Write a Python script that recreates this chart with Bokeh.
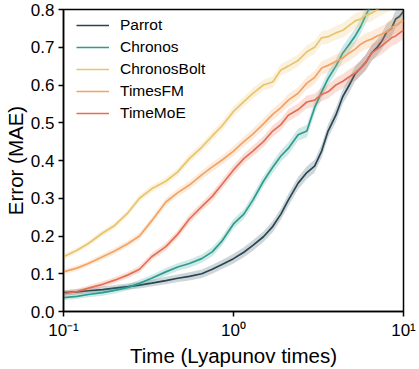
from bokeh.plotting import figure
from bokeh.models import ColumnDataSource, FixedTicker, Legend, LegendItem, PrintfTickFormatter, Range1d
from bokeh.embed import file_html
from bokeh.resources import INLINE

time = [0.1, 0.12, 0.14, 0.17, 0.2, 0.24, 0.28, 0.33, 0.4,
        0.47, 0.55, 0.65, 0.75, 0.85, 1.0,
        1.15, 1.3, 1.5, 1.7, 1.9, 2.1, 2.4,
        2.7, 3.0, 3.3, 3.6, 4.0, 4.4, 4.8, 5.2, 5.6, 6.0, 6.5, 7.0, 7.5, 8.0, 8.5, 9.0, 9.5, 10.0]

parrot = [0.050, 0.052, 0.055, 0.058, 0.062, 0.066, 0.070, 0.075, 0.082,
          0.088, 0.093, 0.100, 0.112, 0.124, 0.140,
          0.157, 0.175, 0.198, 0.225, 0.258, 0.295, 0.340,
          0.368, 0.385, 0.425, 0.478, 0.520, 0.570, 0.600, 0.630, 0.645, 0.660, 0.685, 0.700, 0.718, 0.742, 0.750, 0.775, 0.782, 0.795]
chronos = [0.037, 0.040, 0.045, 0.050, 0.056, 0.064, 0.075, 0.088, 0.105,
           0.118, 0.127, 0.140, 0.158, 0.185, 0.232,
           0.258, 0.295, 0.345, 0.382, 0.412, 0.432, 0.468,
           0.478, 0.540, 0.582, 0.617, 0.650, 0.685, 0.708, 0.730, 0.755, 0.785, 0.815, 0.840, 0.860, 0.880, 0.900, 0.920, 0.940, 0.960]
chronos_bolt = [0.145, 0.162, 0.180, 0.208, 0.228, 0.262, 0.300, 0.325, 0.345,
                0.370, 0.405, 0.435, 0.465, 0.490, 0.530,
                0.556, 0.578, 0.600, 0.608, 0.640, 0.650, 0.665,
                0.688, 0.700, 0.725, 0.728, 0.738, 0.745, 0.758, 0.770, 0.775, 0.785, 0.790, 0.800, 0.808, 0.815, 0.820, 0.830, 0.835, 0.840]
timesfm = [0.105, 0.115, 0.127, 0.145, 0.160, 0.180, 0.200, 0.240, 0.290,
           0.315, 0.335, 0.362, 0.383, 0.400, 0.425,
           0.450, 0.470, 0.497, 0.522, 0.540, 0.560, 0.578,
           0.605, 0.620, 0.645, 0.652, 0.662, 0.672, 0.685, 0.695, 0.708, 0.716, 0.722, 0.730, 0.735, 0.742, 0.752, 0.758, 0.765, 0.770]
timemoe = [0.047, 0.053, 0.062, 0.072, 0.083, 0.097, 0.112, 0.145, 0.172,
           0.205, 0.245, 0.278, 0.305, 0.335, 0.375,
           0.405, 0.425, 0.450, 0.478, 0.495, 0.520, 0.535,
           0.555, 0.560, 0.575, 0.582, 0.600, 0.610, 0.622, 0.632, 0.645, 0.660, 0.685, 0.695, 0.705, 0.715, 0.725, 0.730, 0.738, 0.745]
band = [0.007, 0.007, 0.007, 0.008, 0.008, 0.008, 0.009, 0.009, 0.010,
        0.010, 0.011, 0.011, 0.012, 0.012, 0.013,
        0.013, 0.014, 0.014, 0.015, 0.015, 0.016, 0.016,
        0.017, 0.017, 0.018, 0.018, 0.019, 0.019, 0.020, 0.020, 0.020, 0.021, 0.021, 0.021, 0.022, 0.022, 0.022, 0.023, 0.023, 0.023]

series_names = ["Parrot", "Chronos", "ChronosBolt", "TimesFM", "TimeMoE"]
series_values = [parrot, chronos, chronos_bolt, timesfm, timemoe]
colors = ["#264653", "#2a9d8f", "#e9c46a", "#f4a261", "#e76f51"]

x_ticks = [0.1, 1, 10]
x_tick_labels = ["10\u207b\u00b9", "10\u2070", "10\u00b9"]
y_ticks = [0.0, 0.1, 0.2, 0.3, 0.4, 0.5, 0.6, 0.7, 0.8]

FONT = "Liberation Sans"

p = figure(width=419, height=369, x_axis_type="log",
           x_range=Range1d(0.1, 10), y_range=Range1d(0, 0.8),
           output_backend="svg", toolbar_location=None,
           min_border_left=60, min_border_right=16, min_border_top=9, min_border_bottom=54)
p.styles = {"position": "absolute", "top": "0px", "left": "0px"}

items = []
for name, vals, col in zip(series_names, series_values, colors):
    src = ColumnDataSource(dict(x=time, y=vals,
                                lo=[v - b for v, b in zip(vals, band)],
                                hi=[v + b for v, b in zip(vals, band)]))
    p.varea(x="x", y1="lo", y2="hi", source=src, fill_color=col, fill_alpha=0.22)
    r = p.line(x="x", y="y", source=src, line_color=col, line_width=1.7)
    items.append(LegendItem(label=name, renderers=[r]))

legend = Legend(items=items, location=(13, 188), margin=0, padding=0,
                border_line_color=None, background_fill_alpha=0,
                label_text_font=FONT, label_text_font_size="15.5px",
                label_text_color="black",
                glyph_width=33, glyph_height=20, label_height=20,
                spacing=2, label_standoff=11)
p.add_layout(legend, "center")

p.xgrid.grid_line_color = None
p.ygrid.grid_line_color = None
p.outline_line_color = "black"
p.outline_line_width = 1.5
p.outline_line_alpha = 1.0
p.background_fill_color = "white"
p.border_fill_color = "white"

p.xaxis.ticker = FixedTicker(ticks=x_ticks, minor_ticks=[])
p.xaxis.major_label_overrides = {t: lab for t, lab in zip(x_ticks, x_tick_labels)}
p.yaxis.ticker = FixedTicker(ticks=y_ticks, minor_ticks=[])
p.yaxis.formatter = PrintfTickFormatter(format="%.1f")

for ax in (p.xaxis[0], p.yaxis[0]):
    ax.axis_line_width = 1.5
    ax.axis_line_color = "black"
    ax.major_tick_line_width = 1.5
    ax.major_tick_line_color = "black"
    ax.major_tick_out = 5
    ax.major_tick_in = 0
    ax.minor_tick_line_color = None
    ax.major_label_text_font = FONT
    ax.major_label_text_font_size = "17px"
    ax.major_label_text_color = "black"
    ax.axis_label_text_font = FONT
    ax.axis_label_text_font_size = "20.5px"
    ax.axis_label_text_font_style = "normal"
    ax.axis_label_text_color = "black"
    ax.major_label_standoff = 4

p.xaxis.axis_label = "Time (Lyapunov times)"
p.yaxis.axis_label = "Error (MAE)"
p.xaxis.axis_label_standoff = 1
p.yaxis.axis_label_standoff = 1

open("out.html", "w").write(file_html(p, INLINE))
